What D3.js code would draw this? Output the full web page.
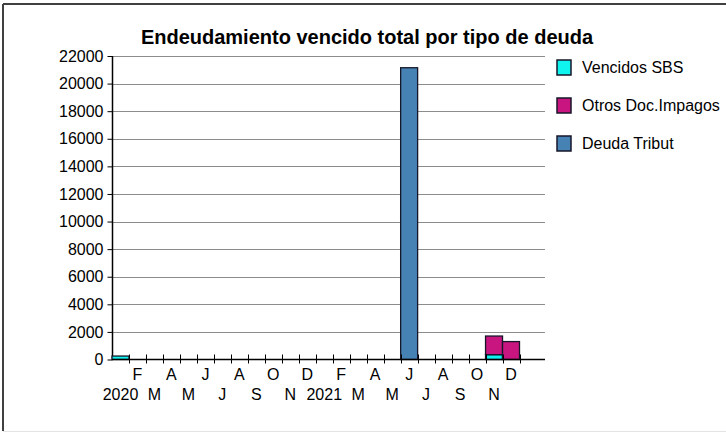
<!DOCTYPE html>
<html>
<head>
<meta charset="utf-8">
<script src="https://cdn.jsdelivr.net/npm/d3@7/dist/d3.min.js"></script>
<style>
  html, body { margin: 0; padding: 0; background: #fff; }
  text { font-family: "Liberation Sans", Arial, sans-serif; }
</style>
</head>
<body>
<div id="chart"></div>
<script>
// months Jan 2020 .. Dec 2021
const months = ['2020-01','2020-02','2020-03','2020-04','2020-05','2020-06','2020-07','2020-08','2020-09','2020-10','2020-11','2020-12',
  '2021-01','2021-02','2021-03','2021-04','2021-05','2021-06','2021-07','2021-08','2021-09','2021-10','2021-11','2021-12'];
const monthLabels = ['2020','F','M','A','M','J','J','A','S','O','N','D','2021','F','M','A','M','J','J','A','S','O','N','D'];

const vencidosSBS = [250,0,0,0,0,0,0,0,0,0,0,0, 0,0,0,0,0,0,0,0,0,0,350,0];
const otrosDoc    = [0,0,0,0,0,0,0,0,0,0,0,0, 0,0,0,0,0,0,0,0,0,0,1350,1300];
const deudaTribut = [0,0,0,0,0,0,0,0,0,0,0,0, 0,0,0,0,0,21150,0,0,0,0,0,0];

const seriesNames = ['Vencidos SBS', 'Otros Doc.Impagos', 'Deuda Tribut'];
const yTicks = [0,2000,4000,6000,8000,10000,12000,14000,16000,18000,20000,22000];

const colors = ['#10f4f0', '#c8157f', '#4682b4'];
const width = 726, height = 434;

const svg = d3.select('#chart')
  .append('svg')
  .attr('width', width)
  .attr('height', height);

// frame
svg.append('line').attr('x1', 3).attr('y1', 4).attr('x2', width).attr('y2', 4)
  .attr('stroke', '#404040').attr('stroke-width', 2);
svg.append('line').attr('x1', 3).attr('y1', 4).attr('x2', 3).attr('y2', 431)
  .attr('stroke', '#404040').attr('stroke-width', 2);
svg.append('line').attr('x1', 3).attr('y1', 431.5).attr('x2', width).attr('y2', 431.5)
  .attr('stroke', '#e4e4e4').attr('stroke-width', 1);

const plotLeft = 112, plotRight = 545;

const x = d3.scaleBand().domain(months).range([plotLeft, 519.5]).padding(0);
const y = d3.scaleLinear().domain([0, 22000]).range([359.5, 56]);

svg.append('text')
  .attr('x', 367)
  .attr('y', 44)
  .attr('text-anchor', 'middle')
  .attr('font-size', 20)
  .attr('font-weight', 'bold')
  .text('Endeudamiento vencido total por tipo de deuda');

// gridlines
svg.append('g')
  .selectAll('line')
  .data(yTicks.filter(d => d > 0))
  .enter()
  .append('line')
  .attr('x1', plotLeft)
  .attr('x2', plotRight)
  .attr('y1', d => Math.round(y(d)) + 0.5)
  .attr('y2', d => Math.round(y(d)) + 0.5)
  .attr('stroke', '#8c8c8c');

// y axis
const yAxis = d3.axisLeft(y).tickValues(yTicks).tickSize(5).tickPadding(4).tickFormat(d3.format('d'));
const gy = svg.append('g')
  .attr('transform', 'translate(' + (plotLeft + 0.5) + ',0)')
  .call(yAxis);
gy.select('.domain').attr('d', 'M0,' + y(22000) + 'V' + y(0)).attr('stroke', '#000').attr('stroke-width', 1.5);
gy.selectAll('.tick line').attr('stroke', '#000');
gy.selectAll('.tick text')
  .attr('font-family', '"Liberation Sans", Arial, sans-serif')
  .attr('font-size', 16)
  .attr('fill', '#000');

// stacked bars
const table = months.map((m, i) => ({
  month: m,
  'Vencidos SBS': vencidosSBS[i],
  'Otros Doc.Impagos': otrosDoc[i],
  'Deuda Tribut': deudaTribut[i]
}));
const stacked = d3.stack().keys(seriesNames)(table);

const gSeries = svg.selectAll('g.series')
  .data(stacked)
  .enter()
  .append('g')
  .classed('series', true)
  .style('fill', (s, i) => colors[i]);

gSeries.selectAll('rect')
  .data(s => s.filter(d => d[1] - d[0] > 0))
  .enter()
  .append('rect')
  .attr('x', d => x(d.data.month))
  .attr('width', x.bandwidth())
  .attr('y', d => y(d[1]))
  .attr('height', d => y(d[0]) - y(d[1]))
  .attr('stroke', '#16162a')
  .attr('stroke-width', 1.3);

// x axis line
svg.append('line')
  .attr('x1', plotLeft).attr('x2', plotRight)
  .attr('y1', y(0)).attr('y2', y(0))
  .attr('stroke', '#000').attr('stroke-width', 1.5);

// x ticks at band edges
svg.append('g')
  .selectAll('line')
  .data(months)
  .enter()
  .append('line')
  .attr('x1', m => Math.round(x(m) + x.bandwidth()) + 0.5)
  .attr('x2', m => Math.round(x(m) + x.bandwidth()) + 0.5)
  .attr('y1', y(0) - 5)
  .attr('y2', y(0) + 4)
  .attr('stroke', '#000');

// month labels in two rows
svg.append('g')
  .selectAll('text')
  .data(months)
  .enter()
  .append('text')
  .attr('x', m => x(m) + x.bandwidth() / 2)
  .attr('y', (m, i) => i % 2 === 1 ? 380 : 400)
  .attr('text-anchor', 'middle')
  .attr('font-size', 16)
  .text((m, i) => monthLabels[i]);

// legend
const legend = svg.append('g')
  .selectAll('g')
  .data(seriesNames)
  .enter()
  .append('g')
  .attr('transform', (d, i) => 'translate(557,' + (60 + i * 38) + ')');

legend.append('rect')
  .attr('width', 14)
  .attr('height', 15)
  .attr('fill', (d, i) => colors[i])
  .attr('stroke', '#16162a')
  .attr('stroke-width', 1.5);

legend.append('text')
  .attr('x', 25)
  .attr('y', 13)
  .attr('font-size', 16)
  .text(d => d);
</script>
</body>
</html>
